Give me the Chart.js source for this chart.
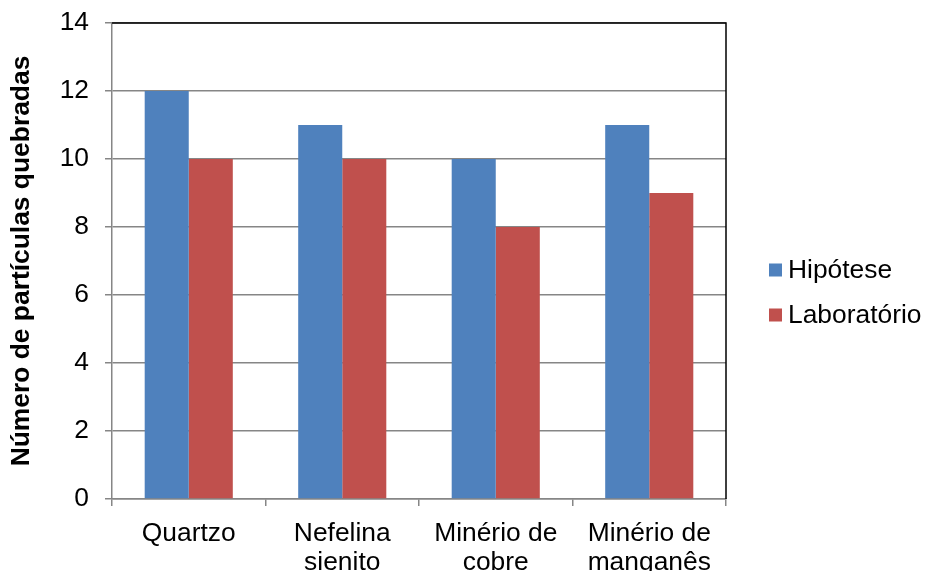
<!DOCTYPE html>
<html>
<head>
<meta charset="utf-8">
<script src="https://cdn.jsdelivr.net/npm/chart.js@4"></script>
<style>
html,body{margin:0;padding:0;background:#fff;}
#wrap{width:925px;height:571px;position:relative;}
</style>
</head>
<body>
<div id="wrap"><canvas id="c" width="925" height="571"></canvas></div>
<script>
const categories = [["Quartzo"], ["Nefelina", "sienito"], ["Minério de", "cobre"], ["Minério de", "manganês"]];
const seriesNames = ["Hipótese", "Laboratório"];
const hipotese = [12, 11, 10, 11];
const laboratorio = [10, 10, 8, 9];
const yTicks = [0, 2, 4, 6, 8, 10, 12, 14];
const yTitle = "Número de partículas quebradas";
const colors = ["#4F81BD", "#C0504D"];

const FONT = "'Liberation Sans', Arial, sans-serif";
const FS = 26.4;

const frame = {
  id: 'frame',
  afterDatasetsDraw(chart) {
    const {ctx, chartArea: a} = chart;
    ctx.save();
    ctx.strokeStyle = '#000';
    ctx.lineWidth = 1.5;
    ctx.beginPath();
    ctx.moveTo(a.left, a.top);
    ctx.lineTo(a.right, a.top);
    ctx.lineTo(a.right, a.bottom);
    ctx.stroke();
    ctx.restore();
  }
};

const legendPlugin = {
  id: 'customLegend',
  afterDraw(chart) {
    const ctx = chart.ctx;
    ctx.save();
    ctx.font = FS + "px " + FONT;
    ctx.textBaseline = 'middle';
    ctx.fillStyle = '#000';
    const x0 = 769, ys = [270, 315], s = 13;
    chart.data.datasets.forEach((ds, i) => {
      ctx.fillStyle = ds.backgroundColor;
      ctx.fillRect(x0, ys[i] - s / 2, s, s);
      ctx.fillStyle = '#000';
      ctx.fillText(ds.label, x0 + 19, ys[i] + 1);
    });
    ctx.restore();
  }
};

new Chart(document.getElementById('c'), {
  type: 'bar',
  data: {
    labels: categories,
    datasets: [
      {label: seriesNames[0], data: hipotese, backgroundColor: colors[0]},
      {label: seriesNames[1], data: laboratorio, backgroundColor: colors[1]}
    ]
  },
  options: {
    responsive: false,
    animation: false,
    devicePixelRatio: 1,
    layout: {padding: {left: 0, right: 199, top: 23, bottom: 0}},
    datasets: {bar: {categoryPercentage: 0.574, barPercentage: 1.0, borderWidth: 0}},
    plugins: {legend: {display: false}, tooltip: {enabled: false}},
    scales: {
      x: {
        grid: {display: true, drawOnChartArea: false, offset: true, tickLength: 7, color: '#868686', lineWidth: 1.5},
        border: {display: true, color: '#868686', width: 1.5},
        ticks: {color: '#000', font: {family: FONT, size: FS, lineHeight: 1.1}, padding: 13, maxRotation: 0, autoSkip: false},
        afterFit(scale) { scale.height = 72; scale.paddingLeft = 0; scale.paddingRight = 0; }
      },
      y: {
        min: 0, max: 14,
        afterBuildTicks(scale) { scale.ticks = yTicks.map(v => ({value: v})); },
        grid: {color: '#868686', lineWidth: 1.5, tickLength: 7},
        border: {display: true, color: '#868686', width: 1.5},
        ticks: {color: '#000', font: {family: FONT, size: FS}, padding: 16},
        title: {display: true, text: yTitle, color: '#000', font: {family: FONT, size: FS, weight: 'bold'}, padding: {top: 6, bottom: 0}},
        afterFit(scale) { scale.width = 112; scale.paddingTop = 0; scale.paddingBottom = 0; }
      }
    }
  },
  plugins: [frame, legendPlugin]
});
</script>
</body>
</html>
